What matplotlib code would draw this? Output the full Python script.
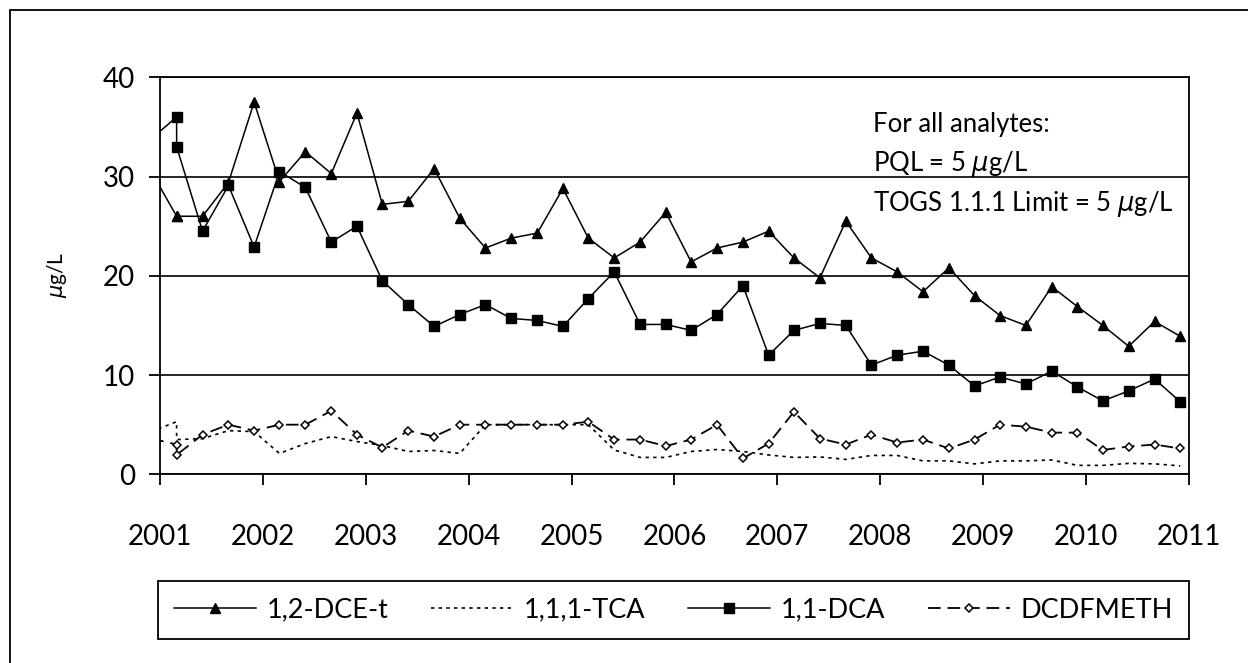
import numpy as np
import pandas as pd
import matplotlib
matplotlib.use('Agg')
import matplotlib.pyplot as plt
import matplotlib.dates as mdates
from matplotlib.patches import Rectangle

plt.rcParams['font.family'] = ['Lato', 'DejaVu Sans']

# Sampling dates: one sample before the axis start, two samples in March 2001, then quarterly
sample_dates = (list(pd.to_datetime(['2000-12-01', '2001-03-01', '2001-03-01']))
                + list(pd.date_range('2001-06-01', '2010-12-01', freq='3MS')))

# Concentrations in ug/L
dce_t = [30.5, 26.0, 26.0,
         26.0, 29.4, 37.5, 29.5, 32.5, 30.3, 36.4, 27.2, 27.5,
         30.8, 25.8, 22.8, 23.8, 24.3, 28.8, 23.8, 21.8, 23.4, 26.4,
         21.4, 22.8, 23.4, 24.5, 21.8, 19.8, 25.5, 21.8, 20.4, 18.4,
         20.8, 18.0, 16.0, 15.0, 18.9, 16.9, 15.0, 12.9, 15.4, 13.9]
tca = [4.3, 5.3, 3.5,
       3.6, 4.4, 4.3, 2.1, 3.1, 3.8, 3.3, 2.9, 2.3,
       2.4, 2.1, 5.0, 5.0, 5.0, 5.0, 5.0, 2.45, 1.7, 1.7,
       2.3, 2.5, 2.3, 1.95, 1.7, 1.75, 1.5, 1.9, 1.9, 1.35,
       1.35, 1.05, 1.35, 1.35, 1.45, 0.9, 0.9, 1.1, 1.05, 0.85]
dca = [33.8, 36.0, 33.0,
       24.5, 29.1, 22.9, 30.5, 28.9, 23.4, 25.0, 19.5, 17.1,
       14.9, 16.1, 17.1, 15.7, 15.5, 14.9, 17.7, 20.4, 15.1, 15.1,
       14.5, 16.1, 19.0, 12.0, 14.5, 15.2, 15.0, 11.0, 12.0, 12.4,
       11.0, 8.9, 9.8, 9.1, 10.4, 8.8, 7.4, 8.4, 9.6, 7.3]
dcdfmeth = [3.6, 3.0, 1.95,
            4.0, 5.0, 4.4, 5.0, 5.0, 6.4, 4.0, 2.7, 4.4,
            3.8, 5.0, 5.0, 5.0, 5.0, 5.0, 5.3, 3.5, 3.5, 2.85,
            3.5, 5.0, 1.6, 3.1, 6.3, 3.6, 3.0, 4.0, 3.2, 3.5,
            2.6, 3.5, 5.0, 4.8, 4.2, 4.2, 2.45, 2.8, 3.0, 2.6]

series_names = ['1,2-DCE-t', '1,1,1-TCA', '1,1-DCA', 'DCDFMETH']
y_ticks = [0, 10, 20, 30, 40]

W, H = 1248, 663
fig = plt.figure(figsize=(W / 100, H / 100), dpi=100)

# outer chart border (only left and top visible in the crop)
fig.add_artist(Rectangle((10 / W, -0.2), 1.2, 1 - 10 / H + 0.2, transform=fig.transFigure,
                         fill=False, edgecolor='black', lw=1.3))

ax = fig.add_axes([160 / W, 1 - 474.3 / H, (1189 - 160) / W, (474.3 - 77.3) / H])

lw = 1.1
ax.plot(sample_dates, dce_t, color='black', lw=lw, marker='^', ms=7.5,
        label=series_names[0], zorder=3)
ax.plot(sample_dates, tca, color='black', lw=1.2, linestyle=(0, (2.0, 2.6)),
        label=series_names[1], zorder=3)
ax.plot(sample_dates, dca, color='black', lw=lw, marker='s', ms=6.5,
        label=series_names[2], zorder=3)
ax.plot(sample_dates, dcdfmeth, color='black', lw=1.3, linestyle=(0, (7.0, 3.8)),
        marker='D', ms=4.5, mfc='white', mec='black', mew=1.1,
        label=series_names[3], zorder=4)

ax.set_xlim(pd.Timestamp('2001-01-01'), pd.Timestamp('2011-01-01'))
ax.set_ylim(0, 40)
ax.set_yticks(y_ticks)
ax.xaxis.set_major_locator(mdates.YearLocator())
ax.xaxis.set_major_formatter(mdates.DateFormatter('%Y'))

ax.yaxis.grid(True, color='black', lw=1.2)
ax.set_axisbelow(True)
for s in ax.spines.values():
    s.set_linewidth(1.3)
    s.set_color('black')

ax.tick_params(axis='both', direction='out', length=8, width=1.3, labelsize=20, color='black')
ax.tick_params(axis='y', pad=10)
ax.tick_params(axis='x', pad=28)

fig.text(57 / W, 1 - 275 / H, r'$\mu$g/L', rotation=90, ha='center', va='center', fontsize=15)

# note text
note_fs = 18.5
fig.text(873 / W, 1 - 132 / H, 'For all analytes:', fontsize=note_fs, va='baseline')
fig.text(873 / W, 1 - 171 / H, r'PQL = 5 $\mu$g/L', fontsize=note_fs, va='baseline')
fig.text(873 / W, 1 - 211 / H, r'TOGS 1.1.1 Limit = 5 $\mu$g/L', fontsize=note_fs, va='baseline')

leg = fig.legend(loc='center', ncol=4, mode='expand',
                 bbox_to_anchor=(158 / W, 1 - 636 / H, (1189 - 158) / W, (636 - 584) / H),
                 bbox_transform=fig.transFigure, fontsize=19.5, handlelength=3.0,
                 handletextpad=0.4, borderpad=0.6, fancybox=False, framealpha=1,
                 edgecolor='black', borderaxespad=0)
leg.get_frame().set_linewidth(1.3)

fig.savefig('out.png', dpi=100)
